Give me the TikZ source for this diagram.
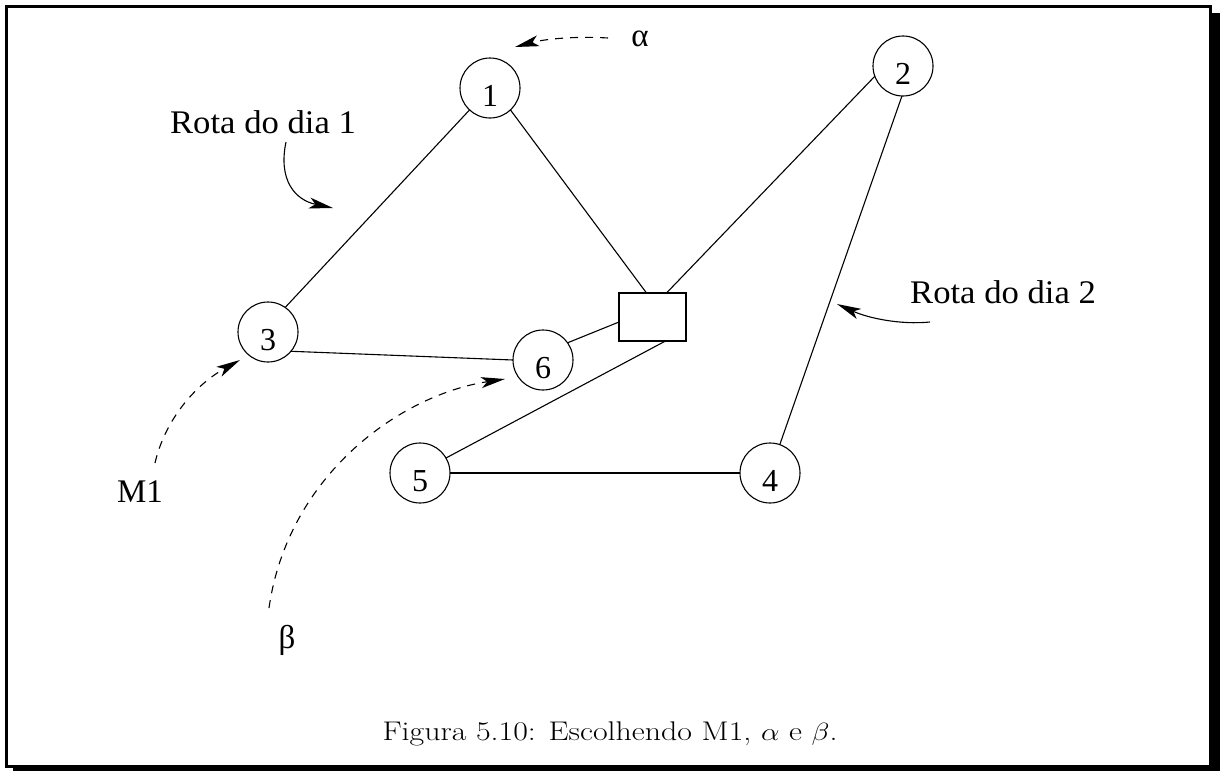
\documentclass[tikz,border=0pt]{standalone}
\usepackage{fontspec}
\newfontfamily\lab{Liberation Serif}
\usetikzlibrary{arrows.meta}
\tikzset{
  vert/.style={circle,draw,minimum size=60pt,inner sep=0pt,outer sep=0pt,line width=1.1pt,
    text height=37pt,text depth=0pt,font=\lab\fontsize{32}{32}\selectfont},
  depot/.style={rectangle,draw,minimum width=67pt,minimum height=48pt,inner sep=0pt,outer sep=0pt,line width=1.1pt},
  edge/.style={line width=1.1pt},
  lbl/.style={font=\lab\fontsize{33}{33}\selectfont,inner sep=0pt},
  pointer/.style={line width=1.1pt,-{Stealth[length=24pt,width=11pt,inset=6pt]}},
  dashptr/.style={pointer,dash pattern=on 8pt off 7pt}
}
\begin{document}
\begin{tikzpicture}[x=1pt,y=-1pt]
\useasboundingbox (0,0) rectangle (1220,771);
% frame with shadow
\fill[black] (13,13) rectangle (1220,771);
\draw[line width=3pt,fill=white] (6.5,6.5) rectangle (1210.5,766.5);

% nodes
\node[vert] (n1) at (490,88) {1};
\node[vert] (n2) at (903,66) {2};
\node[vert] (n3) at (268,332) {3};
\node[vert] (n4) at (770,473) {4};
\node[vert] (n5) at (420,473) {5};
\node[vert] (n6) at (543,360) {6};
\node[depot] (r) at (652.5,317) {};

% edges
\draw[edge] (n1.-133) -- (n3.55);
\draw[edge] (n1.-47) -- ([xshift=-6pt]r.north);
\draw[edge] (n2.200) -- ([xshift=14pt]r.north);
\draw[edge] (n2.-92) -- (n4.71);
\draw[edge] (n3.-40) -- (n6.180);
\draw[edge] (n6.35) -- ([yshift=-5pt]r.west);
\draw[edge] ([xshift=13pt]r.south) -- (n5.30);
\draw[edge] (n5.0) -- (n4.180);

% labels
\node[lbl,anchor=base] (t1) at (263,133) {\scalebox{1.05}[1]{Rota do dia 1}};
\node[lbl,anchor=base] (t2) at (1003,303) {\scalebox{1.05}[1]{Rota do dia 2}};
\node[lbl,anchor=base] (m1) at (140,502) {M1};
\node[lbl] (al) at (640,39) {α};
\node[lbl] (be) at (287,640) {β};

% pointer coordinates
\coordinate (a0) at (608,38);
\coordinate (a1) at (515,47);
\coordinate (p0) at (286,142);
\coordinate (p1) at (333,208);
\coordinate (q0) at (930,322);
\coordinate (q1) at (837,304);
\coordinate (m0) at (155,463);
\coordinate (mt) at (240,360);
\coordinate (b0) at (269,608);
\coordinate (bt) at (505,379);

\draw[dashptr] (a0) .. controls (575,36) and (545,39) .. (a1);
\draw[pointer] (p0) .. controls (278,180) and (295,200) .. (p1);
\draw[pointer] (q0) .. controls (900,325) and (868,318) .. (q1);
\draw[dashptr] (m0) .. controls (165,420) and (195,385) .. (mt);
\draw[dashptr] (b0) .. controls (288,475) and (400,395) .. (bt);

% caption
\node[font=\fontsize{27}{27}\selectfont,anchor=base] (cap) at (610,740) {\scalebox{1.18}[1]{Figura 5.10: Escolhendo M1, $\alpha$ e $\beta$.}};
\end{tikzpicture}
\end{document}
